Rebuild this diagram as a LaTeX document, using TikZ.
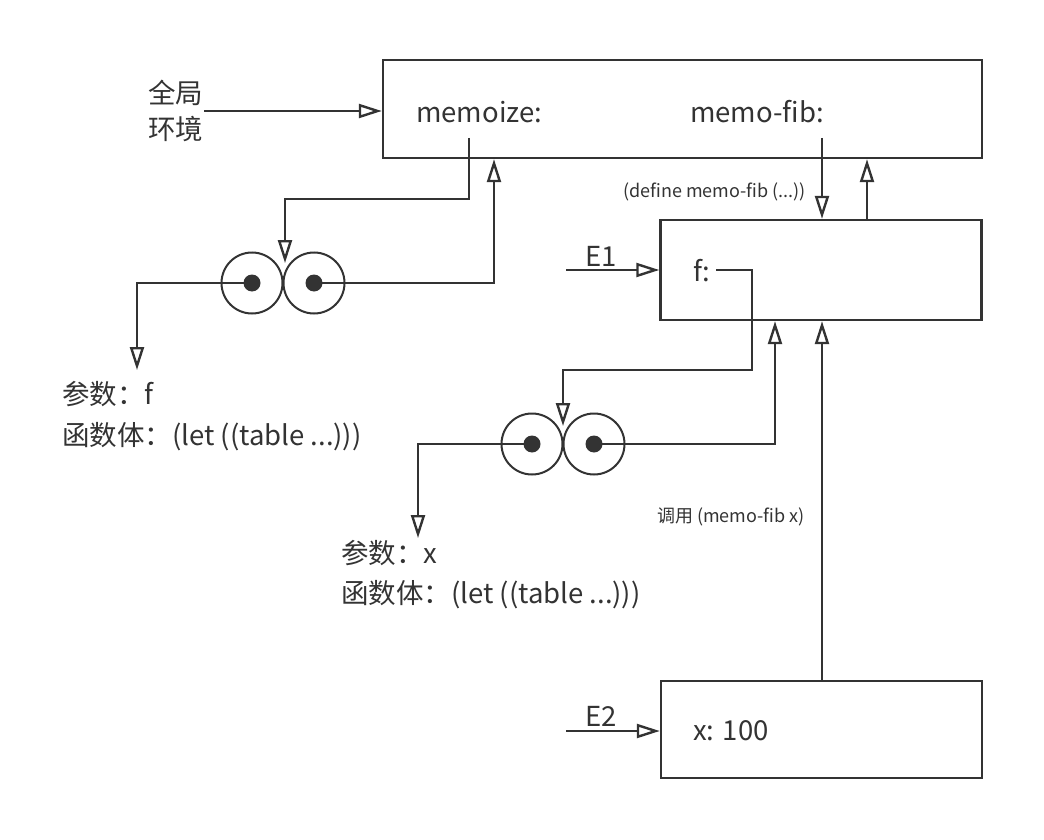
\documentclass[tikz,border=0pt]{standalone}
\usepackage{fontspec}
\setmainfont{Noto Sans CJK SC}
\usetikzlibrary{arrows.meta}
\definecolor{ink}{HTML}{333333}
\tikzset{
  box/.style={draw=ink, line width=2.4pt, inner sep=0pt},
  arr/.style={draw=ink, line width=2.4pt, -{Triangle[open,length=23pt,width=14pt]}},
  ln/.style={draw=ink, line width=2.4pt},
  ring/.style={circle, draw=ink, line width=2pt, minimum size=61pt, inner sep=0pt},
  dot/.style={circle, fill=ink, minimum size=17pt, inner sep=0pt},
  txt/.style={text=ink, font=\fontsize{27.5}{32}\selectfont, inner sep=0pt, anchor=west},
  small/.style={text=ink, font=\fontsize{18}{21}\selectfont, inner sep=0pt, anchor=west},
}
\begin{document}
\begin{tikzpicture}[x=1pt,y=-1pt]
\useasboundingbox (0,0) rectangle (1044,840);
% frames
\node[box, minimum width=599pt, minimum height=98pt] (G) at (682.5,109) {};
\node[box, minimum width=321pt, minimum height=100pt] (E1) at (821,270) {};
\node[box, minimum width=321pt, minimum height=97pt] (E2) at (821.5,729.5) {};
% texts
\node[txt, align=left] (glob) at (148,111) {全局\\[4pt]环境};
\node[txt] (mz) at (416,112) {memoize:};
\node[txt] (mf) at (690,112) {memo-fib:};
\node[txt] (f) at (693,271) {f:};
\node[txt] (x) at (693,731) {x: 100};
\node[txt] (e1) at (585,256) {E1};
\node[txt] (e2) at (585,716) {E2};
\node[small] (def) at (623,192) {(define memo-fib (...))};
\node[small] (call) at (657,517) {调用 (memo-fib x)};
\node[txt] (p1) at (62,394) {参数：f};
\node[txt] (b1) at (62,437) {函数体：(let ((table ...)))};
\node[txt] (p2) at (341,553) {参数：x};
\node[txt] (b2) at (341,595) {函数体：(let ((table ...)))};
% procedure objects
\node[ring] (r1l) at (252,283) {};
\node[ring] (r1r) at (314,283) {};
\node[dot] (d1l) at (r1l) {};
\node[dot] (d1r) at (r1r) {};
\node[ring] (r2l) at (532,444) {};
\node[ring] (r2r) at (594,444) {};
\node[dot] (d2l) at (r2l) {};
\node[dot] (d2r) at (r2r) {};
% coordinates
\coordinate (gs) at (204,111);
\coordinate (e1s) at (566,270);
\coordinate (e2s) at (566,731);
\coordinate (mzp) at (469,138);
\coordinate (t1) at (285,263);
\coordinate (a1) at (137,370);
\coordinate (mfp) at (822,138);
\coordinate (fp) at (716,270);
\coordinate (t2) at (563,426);
\coordinate (a2) at (418,538);
\coordinate (gb1) at (494,0);
\coordinate (gb2) at (867,0);
\coordinate (e1t) at (822,0);
\coordinate (e1b) at (775,0);
% connectors
\draw[arr] (gs) -- (G.west |- gs);
\draw[arr] (e1s) -- (E1.west |- e1s);
\draw[arr] (e2s) -- (E2.west |- e2s);
\draw[arr] (mzp) |- (285,199) -- (t1);
\draw[arr] (d1l.center) -| (a1);
\draw[arr] (d1r.center) -| (gb1 |- G.south);
\draw[arr] (mfp) -- (e1t |- E1.north);
\draw[arr] (gb2 |- E1.north) -- (gb2 |- G.south);
\draw[arr] (fp) -| (752,370) -| (t2);
\draw[arr] (d2l.center) -| (a2);
\draw[arr] (d2r.center) -| (e1b |- E1.south);
\draw[arr] (e1t |- E2.north) -- (e1t |- E1.south);
\end{tikzpicture}
\end{document}
